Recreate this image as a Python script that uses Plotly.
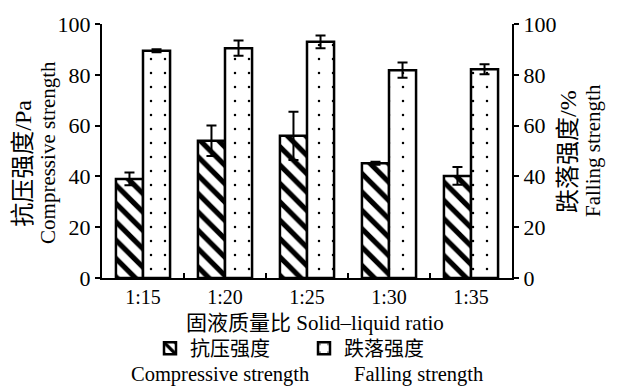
import plotly.graph_objects as go

categories = ["1:15", "1:20", "1:25", "1:30", "1:35"]
compressive = [39, 54, 56, 45.2, 40.2]
compressive_err = [2.5, 6, 9.5, 0.6, 3.5]
falling = [89.5, 90.5, 93, 81.8, 82.2]
falling_err = [0.6, 3, 2.5, 3, 2]

SERIF = "Liberation Serif"
MIXED = "Liberation Serif, Noto Sans CJK SC"

W = 617 - 102 - 105
H = 388 - 18 - 110
def px(x):
    return (x - 102) / W
def py(y):
    return (278 - y) / H

def f(size, fam=MIXED):
    return dict(family=fam, size=size, color="black")

fig = go.Figure()
fig.add_trace(go.Bar(
    x=categories, y=compressive, name="抗压强度", offsetgroup="a",
    marker=dict(color="white", line=dict(color="black", width=2.5),
                pattern=dict(shape="\\", fgcolor="black", bgcolor="white", fgopacity=1,
                             size=13, solidity=0.4)),
    error_y=dict(type="data", array=compressive_err, color="black", thickness=2, width=5),
    yaxis="y",
))
fig.add_trace(go.Bar(
    x=categories, y=falling, name="跌落强度", offsetgroup="b",
    marker=dict(color="white", line=dict(color="black", width=2.5),
                pattern=dict(shape=".", fgcolor="black", bgcolor="white", fgopacity=1,
                             size=14, solidity=0.025)),
    error_y=dict(type="data", array=falling_err, color="black", thickness=2, width=5),
    yaxis="y2",
))

fig.update_layout(
    width=617, height=388,
    margin=dict(l=102, r=105, t=18, b=110),
    paper_bgcolor="white", plot_bgcolor="white",
    font=f(20),
    barmode="group", bargap=0.34, bargroupgap=0,
    xaxis=dict(
        range=[-0.5, 4.5], showline=True, linecolor="black", linewidth=2,
        ticks="inside", tickson="boundaries", ticklen=5, tickwidth=2, tickcolor="black",
        showgrid=False, tickfont=f(20, SERIF),
    ),
    yaxis=dict(
        range=[0, 100], dtick=20, showline=True, linecolor="black", linewidth=2,
        ticks="outside", ticklen=5, tickwidth=2, tickcolor="black", showgrid=False,
        zeroline=False, tickfont=f(22, SERIF),
    ),
    yaxis2=dict(
        range=[0, 100], dtick=20, overlaying="y", side="right", showline=True,
        linecolor="black", linewidth=2, ticks="outside", ticklen=5, tickwidth=2,
        tickcolor="black", showgrid=False, zeroline=False, tickfont=f(22, SERIF),
    ),
    legend=dict(orientation="h", x=px(150), xanchor="left", y=py(350), yanchor="middle",
                font=f(20), itemwidth=30, entrywidth=109, entrywidthmode="pixels",
                bgcolor="rgba(0,0,0,0)"),
)

def ann(text, x, y, size, fam, angle=0):
    fig.add_annotation(text=text, x=px(x), y=py(y), xref="paper", yref="paper",
                       showarrow=False, font=f(size, fam), xanchor="center",
                       yanchor="middle", textangle=angle)

# axis titles
ann("固液质量比 Solid–liquid ratio", 315, 324, 21, MIXED)
ann("抗压强度/Pa", 23, 161, 24, MIXED, -90)
ann("Compressive strength", 48, 150, 21, SERIF, -90)
ann("跌落强度/%", 568, 149, 24, MIXED, -90)
ann("Falling strength", 593, 148, 21, SERIF, -90)
# English legend lines
ann("Compressive strength", 220, 377, 20.5, SERIF)
ann("Falling strength", 418, 377, 20.5, SERIF)

fig.write_html("out.html")
